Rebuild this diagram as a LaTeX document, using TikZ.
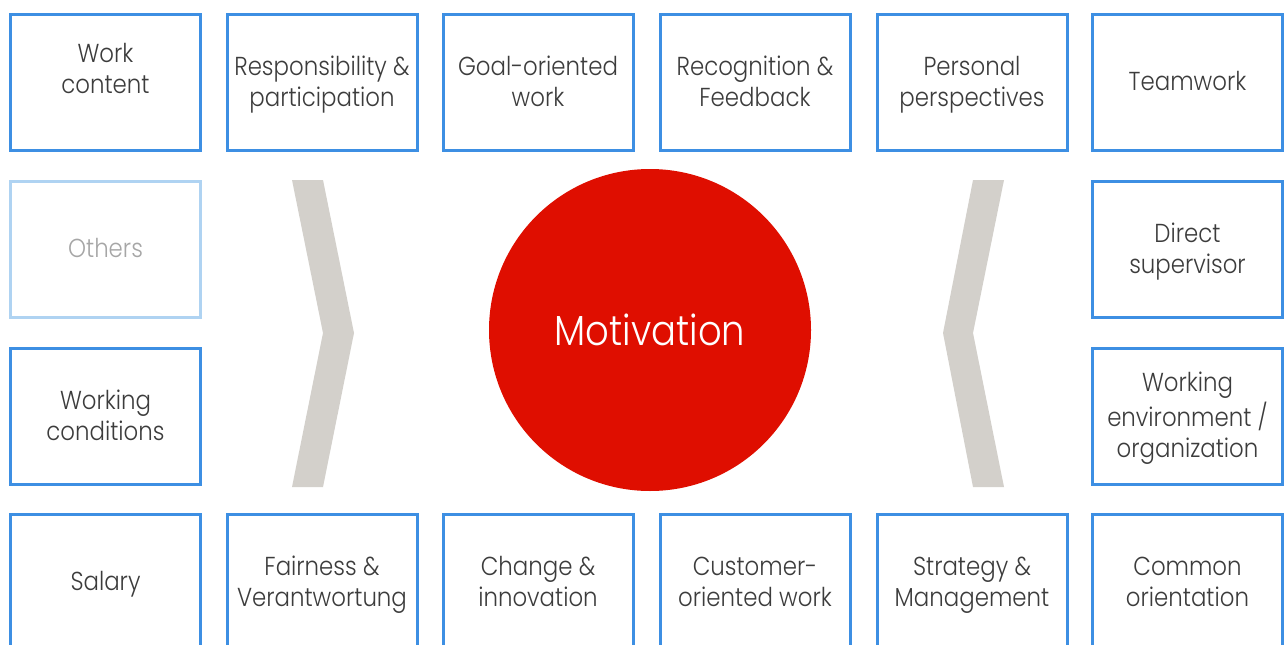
\documentclass[tikz,border=0pt]{standalone}
\usepackage{fontspec}
\IfFontExistsTF{Poppins Light}{\setmainfont{Poppins Light}[FakeStretch=0.88]}{\setmainfont{Poppins}[FakeStretch=0.88]}
\definecolor{boxblue}{HTML}{3D8FE3}
\definecolor{paleblue}{HTML}{AFD3F2}
\definecolor{txtgray}{HTML}{3C3C3C}
\definecolor{palegray}{HTML}{A6A6A6}
\definecolor{chev}{HTML}{D3D0CB}
\definecolor{motred}{HTML}{DF0E00}
\tikzset{
  box/.style={draw=boxblue, line width=3pt, minimum width=190pt, minimum height=136pt, inner sep=0pt},
  palebox/.style={box, draw=paleblue},
  txt/.style={align=center, text=txtgray, inner sep=0pt, font={\fontsize{26}{31}\selectfont}},
  paletxt/.style={txt, text=palegray},
  chevron/.style={fill=chev, draw=none}
}
% box with its label (struts make every label sit alike)
\newcommand\labelledbox[6]{%
  \node[#1] (#2) at (#3,#4) {};
  \node[#5] (#2t) at ([yshift=-2.5pt]#2.center) {\strut#6\strut};
}
\begin{document}
\begin{tikzpicture}[x=1pt,y=-1pt]
\useasboundingbox (0,0) rectangle (1285,645);
\clip (0,0) rectangle (1285,645);
% row 1
\node[box] (wc) at (105.5,82) {};
\node[txt] (wct) at ([yshift=14pt]wc.center) {Work\\content};
\labelledbox{box}{rp}{322}{82}{txt}{Responsibility \&\\participation}
\labelledbox{box}{go}{538}{82}{txt}{Goal-oriented\\work}
\labelledbox{box}{rf}{755}{82}{txt}{Recognition \&\\Feedback}
\labelledbox{box}{pp}{972}{82}{txt}{Personal\\perspectives}
\labelledbox{box}{tw}{1187.5}{82}{txt}{Teamwork}
% row 2
\labelledbox{palebox}{ot}{105.5}{249}{paletxt}{Others}
\labelledbox{box}{ds}{1187.5}{249}{txt}{Direct\\supervisor}
% row 3
\labelledbox{box}{wk}{105.5}{416}{txt}{Working\\conditions}
\labelledbox{box}{we}{1187.5}{416}{txt}{Working\\environment /\\organization}
% row 4
\labelledbox{box}{sa}{105.5}{582}{txt}{Salary}
\labelledbox{box}{fv}{322}{582}{txt}{Fairness \&\\Verantwortung}
\labelledbox{box}{ci}{538}{582}{txt}{Change \&\\innovation}
\labelledbox{box}{co}{755}{582}{txt}{Customer-\\oriented work}
\labelledbox{box}{sm}{972}{582}{txt}{Strategy \&\\Management}
\labelledbox{box}{cm}{1187.5}{582}{txt}{Common\\orientation}
% chevrons
\fill[chevron] (292,180) -- (323,180) -- (354,333) -- (323,487) -- (292,487) -- (323,333) -- cycle;
\fill[chevron] (1004,180) -- (973,180) -- (943,333) -- (973,487) -- (1004,487) -- (973,333) -- cycle;
% circle
\node[circle, fill=motred, minimum size=322pt, inner sep=0pt, text=white,
  font={\fontsize{42}{50}\selectfont}] (mot) at (650,330) {Motivation};
\end{tikzpicture}
\end{document}
